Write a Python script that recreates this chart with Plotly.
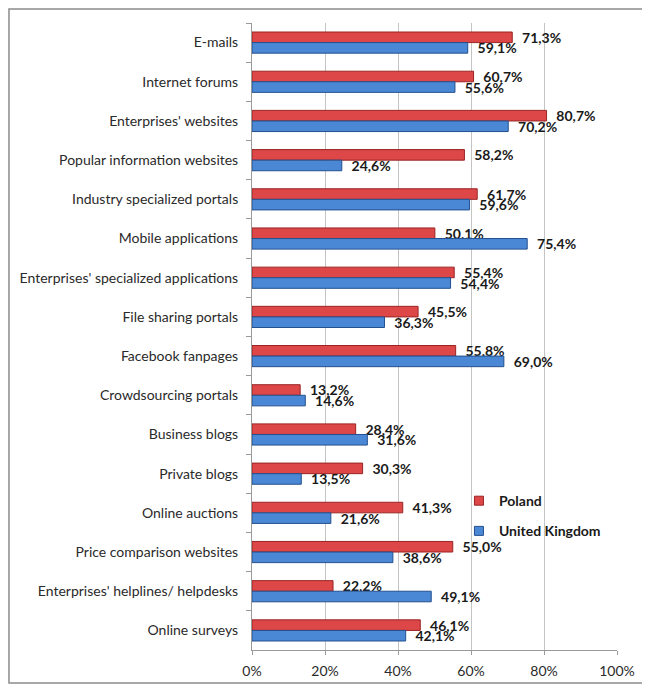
import plotly.graph_objects as go

categories = [
    "E-mails", "Internet forums", "Enterprises' websites", "Popular information websites",
    "Industry specialized portals", "Mobile applications", "Enterprises' specialized applications",
    "File sharing portals", "Facebook fanpages", "Crowdsourcing portals", "Business blogs",
    "Private blogs", "Online auctions", "Price comparison websites",
    "Enterprises' helplines/ helpdesks", "Online surveys",
]
poland = [71.3, 60.7, 80.7, 58.2, 61.7, 50.1, 55.4, 45.5, 55.8, 13.2, 28.4, 30.3, 41.3, 55.0, 22.2, 46.1]
uk = [59.1, 55.6, 70.2, 24.6, 59.6, 75.4, 54.4, 36.3, 69.0, 14.6, 31.6, 13.5, 21.6, 38.6, 49.1, 42.1]
tick_vals = [0, 20, 40, 60, 80, 100]
tick_text = ["0%", "20%", "40%", "60%", "80%", "100%"]

RED = "#dd4747"
BLUE = "#4a88d6"

def fmt(v):
    return "  " + f"{v:.1f}".replace(".", ",") + "%"

label_font = dict(family="Lato", size=14, color="#1a1a1a", weight="bold")

fig = go.Figure()
fig.add_trace(go.Bar(
    y=categories, x=poland, orientation="h", name="Poland",
    marker=dict(color=RED, line=dict(color="#9a2424", width=1)),
    text=[fmt(v) for v in poland], textposition="outside", textfont=label_font,
    constraintext="none", cliponaxis=False, showlegend=False,
))
fig.add_trace(go.Bar(
    y=categories, x=uk, orientation="h", name="United Kingdom",
    marker=dict(color=BLUE, line=dict(color="#24508e", width=1)),
    text=[fmt(v) for v in uk], textposition="outside", textfont=label_font,
    constraintext="none", cliponaxis=False, showlegend=False,
))
# legend entries (small square swatches)
fig.add_trace(go.Scatter(x=[None], y=[None], mode="markers", name="Poland",
                         marker=dict(symbol="square", size=9, color=RED,
                                     line=dict(color="#9a2424", width=1)),
                         legendgroup="p"))
fig.add_trace(go.Scatter(x=[None], y=[None], mode="markers", name="United Kingdom",
                         marker=dict(symbol="square", size=9, color=BLUE,
                                     line=dict(color="#24508e", width=1)),
                         legendgroup="u"))

fig.update_layout(
    width=642, height=683,
    margin=dict(l=244, r=33, t=15, b=41),
    paper_bgcolor="white", plot_bgcolor="white",
    barmode="group", bargap=0.46, bargroupgap=0.0,
    font=dict(family="Lato", size=14, color="#2a2a2a"),
    xaxis=dict(range=[0, 100], tickvals=tick_vals, ticktext=tick_text,
               showgrid=True, gridcolor="#c4c4c4", gridwidth=1,
               showline=True, linecolor="#9a9a9a", linewidth=1,
               ticks="outside", ticklen=4, tickcolor="#9a9a9a", ticklabelstandoff=4,
               zeroline=False, fixedrange=True, tickfont=dict(size=14)),
    yaxis=dict(autorange="reversed", showline=True, linecolor="#9a9a9a", linewidth=1,
               ticks="outside", ticklen=5, tickcolor="#9a9a9a", tickson="boundaries",
               showgrid=False, ticklabelstandoff=10, tickfont=dict(size=14)),
    legend=dict(x=0.567, y=0.263, xanchor="left", yanchor="top",
                bgcolor="rgba(0,0,0,0)", traceorder="grouped", tracegroupgap=9,
                font=dict(family="Lato", size=14, color="#1a1a1a", weight="bold"),
                itemwidth=30),
    showlegend=True,
    shapes=[dict(type="rect", xref="paper", yref="paper",
                 x0=-0.6658, x1=1.0849, y0=-0.0526, y1=1.0223,
                 line=dict(color="#8c8c8c", width=1.5), fillcolor="rgba(0,0,0,0)",
                 layer="below")],
)

fig.write_html("out.html")
